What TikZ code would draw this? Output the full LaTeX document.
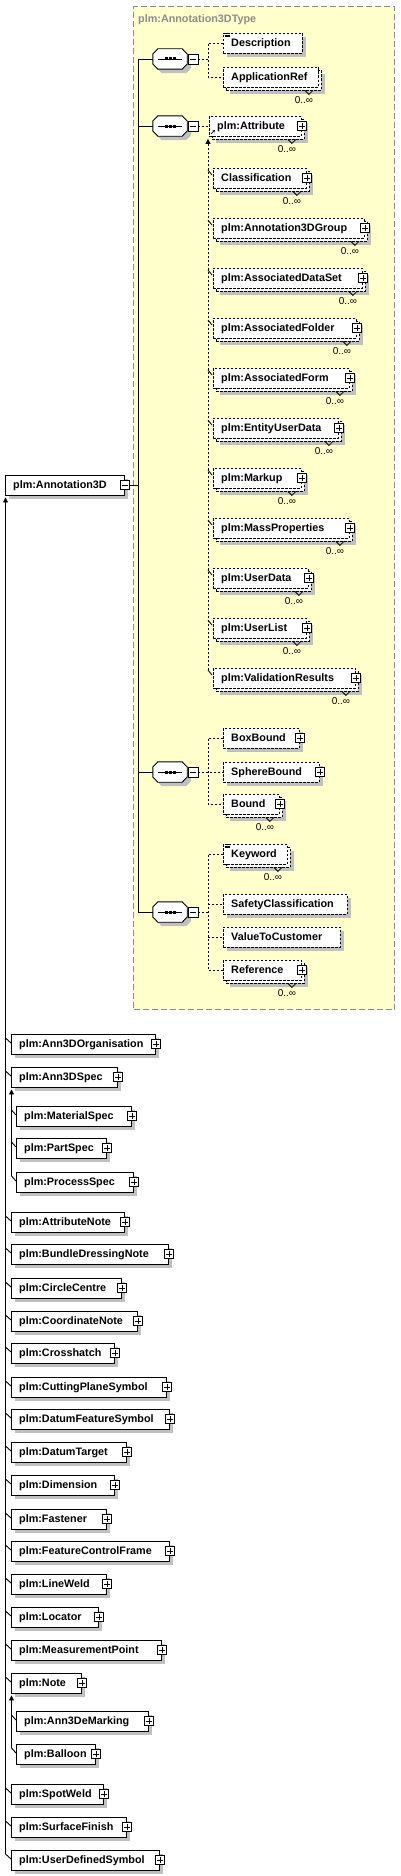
\documentclass[tikz,border=0pt]{standalone}
\usepackage{fontspec}
\setmainfont{Liberation Sans}
\usetikzlibrary{arrows.meta,calc}
\definecolor{shgrey}{HTML}{C0C0C0}
\definecolor{tyellow}{HTML}{FFFFCC}
\definecolor{dgrey}{HTML}{8C8C8C}
\tikzset{
 el/.style={rectangle, draw=black, fill=white, line width=0.9pt, minimum height=20pt, inner sep=0pt},
 shd/.style={preaction={fill=shgrey, draw=none, transform canvas={shift={(4pt,-4pt)}}}},
 dsh/.style={dash pattern=on 2.5pt off 1.5pt},
 eltxt/.style={anchor=base west, inner sep=0pt, font=\bfseries\fontsize{10.8}{12}\selectfont},
 mult/.style={inner sep=0pt, font=\fontsize{10}{12}\selectfont},
 pmbox/.style={rectangle, draw=black, fill=white, line width=0.8pt, minimum size=9pt, inner sep=0pt},
 plusbox/.style={pmbox, path picture={\draw[line width=0.8pt] ([xshift=1.8pt]path picture bounding box.west) -- ([xshift=-1.8pt]path picture bounding box.east) ([yshift=-1.8pt]path picture bounding box.north) -- ([yshift=1.8pt]path picture bounding box.south);}},
 minusbox/.style={pmbox, path picture={\draw[line width=0.8pt] ([xshift=1.8pt]path picture bounding box.west) -- ([xshift=-1.8pt]path picture bounding box.east);}},
 conn/.style={line width=0.9pt},
 dconn/.style={line width=0.9pt, dash pattern=on 2pt off 2pt},
 uparr/.style={-{Triangle[length=5pt,width=5pt]}},
 tbox/.style={rectangle, draw=dgrey, fill=tyellow, line width=1.2pt, dash pattern=on 6pt off 3pt, inner sep=0pt},
 ttl/.style={anchor=base west, inner sep=0pt, text=dgrey, font=\bfseries\fontsize{10.8}{12}\selectfont},
}
\newcommand\elbox[6]{%
  \pgfmathsetmacro\bw{#3-#2}%
  \node[el,#6,minimum width=\bw pt,anchor=west] (#1) at (#2,#4) {};%
  \node[eltxt] (#1-t) at ([xshift=8pt,yshift=-3.8pt]#1.west) {#5};%
}
\newcommand\backbox[4]{%
  \pgfmathsetmacro\bw{#3-#2}%
  \pgfmathsetmacro\bl{#2+3}%
  \pgfmathsetmacro\bc{#4+3}%
  \node[el,dsh,shd,minimum width=\bw pt,anchor=west] (#1-b) at (\bl,\bc) {};%
  \draw[line width=0.8pt] ([xshift=-17pt]#1-b.south east) -- ++(4pt,-4pt) -- ++(4pt,4pt);%
  \node[mult] (#1-m) at ([xshift=-18pt,yshift=-10pt]#1-b.south east) {0..∞};%
}
\newcommand\pls[1]{\node[plusbox] (#1-p) at (#1.east) {};}
\newcommand\seqc[2]{%
  \node[inner sep=0pt,minimum width=34pt,minimum height=20pt] (#1) at (170,#2) {};%
  \draw[line width=0.9pt,fill=white,shd] ([yshift=5pt]#1.west) -- ([xshift=5pt]#1.north west) -- ([xshift=-5pt]#1.north east) -- ([yshift=5pt]#1.east) -- ([yshift=-5pt]#1.east) -- ([xshift=-5pt]#1.south east) -- ([xshift=5pt]#1.south west) -- ([yshift=-5pt]#1.west) -- cycle;%
  \draw[line width=0.9pt] ([xshift=5pt]#1.west) -- ([xshift=-5pt]#1.east);%
  \foreach \dx in {-4,0,4} \fill ([xshift=\dx pt]#1.center) +(-1.5pt,-1.5pt) rectangle +(1.5pt,1.5pt);%
  \node[minusbox,minimum size=10pt] (#1-p) at (193,#2) {};%
}
\newcommand\ltick[2]{\draw[conn] ($(#1.west -| #2)+(0,6pt)$) -- ($(#1.west)+(0,1pt)$);}
\newcommand\ytick[1]{\draw[line width=0.8pt] ($(#1.west -| jx)+(0,8pt)$) -- ($(#1.west)+(-1pt,3pt)$);}
\newcommand\lines[1]{\foreach \k in {0.7,2.4,4.1} \draw[line width=0.6pt] ($(#1.north west)+(1.5pt,-\k pt)$) -- ++(5pt,0pt);}
\begin{document}
\begin{tikzpicture}[x=1pt,y=-1pt]
\useasboundingbox (0,0) rectangle (400,1876);
% type container
\node[tbox, anchor=north west, minimum width=261pt, minimum height=1003pt] (typebox) at (133,6) {};
\node[ttl] (title) at (138,22.5) {plm:Annotation3DType};
\coordinate (bust) at (138,0);
\coordinate (jx) at (208,0);
\coordinate (lx) at (5.5,0);
\coordinate (sx) at (11.5,0);
% root element
\elbox{a3d}{5}{124}{485}{plm:Annotation3D}{shd}
\node[minusbox] (a3d-p) at (a3d.east) {};
% compositors
\seqc{c1}{59}
\seqc{c2}{126}
\seqc{c3}{772}
\seqc{c4}{912}
\draw[conn] (a3d-p.east) -- (a3d-p.east -| bust);
\draw[conn] (c1.west) -- (c1.west -| bust) -- (c4.west -| bust) -- (c4.west);
\draw[conn] (c2.west) -- (c2.west -| bust);
\draw[conn] (c3.west) -- (c3.west -| bust);
% compositor 1 children
\elbox{desc}{223}{302}{43}{Description}{dsh,shd}
\lines{desc}
\backbox{appref}{223}{318}{77}
\elbox{appref}{223}{318}{77}{ApplicationRef}{dsh}
\draw[dconn] (c1-p.east) -- (c1-p.east -| jx);
\draw[dconn] (desc.west) -| (jx |- appref.west) -- (appref.west);
% compositor 2 children
\backbox{attr}{209}{301}{126}
\elbox{attr}{209}{301}{126}{plm:Attribute}{dsh}
\pls{attr}
\draw[line width=0.7pt,-{Stealth[length=2.5pt,width=2.5pt]}] ($(attr.south west)+(2pt,2.5pt)$) -- ++(4pt,4pt);
\backbox{cls}{213}{306}{178}
\elbox{cls}{213}{306}{178}{Classification}{dsh}
\pls{cls}
\backbox{agrp}{213}{364}{228}
\elbox{agrp}{213}{364}{228}{plm:Annotation3DGroup}{dsh}
\pls{agrp}
\backbox{ads}{213}{362}{278}
\elbox{ads}{213}{362}{278}{plm:AssociatedDataSet}{dsh}
\pls{ads}
\backbox{afo}{213}{356}{328}
\elbox{afo}{213}{356}{328}{plm:AssociatedFolder}{dsh}
\pls{afo}
\backbox{afm}{213}{349}{378}
\elbox{afm}{213}{349}{378}{plm:AssociatedForm}{dsh}
\pls{afm}
\backbox{eud}{213}{338}{428}
\elbox{eud}{213}{338}{428}{plm:EntityUserData}{dsh}
\pls{eud}
\backbox{mku}{213}{301}{478}
\elbox{mku}{213}{301}{478}{plm:Markup}{dsh}
\pls{mku}
\backbox{mpr}{213}{349}{528}
\elbox{mpr}{213}{349}{528}{plm:MassProperties}{dsh}
\pls{mpr}
\backbox{udt}{213}{308}{578}
\elbox{udt}{213}{308}{578}{plm:UserData}{dsh}
\pls{udt}
\backbox{uls}{213}{306}{628}
\elbox{uls}{213}{306}{628}{plm:UserList}{dsh}
\pls{uls}
\backbox{vres}{213}{355}{678}
\elbox{vres}{213}{355}{678}{plm:ValidationResults}{dsh}
\pls{vres}
\draw[dconn] (c2-p.east) -- (c2-p.east -| attr.west);
\draw[dconn,uparr] ($(vres.west -| jx)+(0,8pt)$) -- ($(attr.south west -| jx)+(0,-2.5pt)$);
\foreach \n in {cls,agrp,ads,afo,afm,eud,mku,mpr,udt,uls,vres} {\ytick{\n}}
% compositor 3 children
\elbox{bxb}{223}{299}{738}{BoxBound}{dsh,shd}
\pls{bxb}
\elbox{sph}{223}{319}{772}{SphereBound}{dsh,shd}
\pls{sph}
\backbox{bnd}{223}{279}{804}
\elbox{bnd}{223}{279}{804}{Bound}{dsh}
\pls{bnd}
\draw[dconn] (c3-p.east) -- (sph.west);
\draw[dconn] (bxb.west) -| (jx |- bnd.west) -- (bnd.west);
% compositor 4 children
\backbox{kw}{223}{287}{854}
\elbox{kw}{223}{287}{854}{Keyword}{dsh}
\lines{kw}
\elbox{sfc}{223}{347}{904}{SafetyClassification}{dsh,shd}
\elbox{vtc}{223}{340}{937}{ValueToCustomer}{dsh,shd}
\backbox{ref}{223}{301}{970}
\elbox{ref}{223}{301}{970}{Reference}{dsh}
\pls{ref}
\draw[dconn] (c4-p.east) -- (c4-p.east -| jx);
\draw[dconn] (kw.west) -| (jx |- ref.west) -- (ref.west);
\draw[dconn] (sfc.west -| jx) -- (sfc.west);
\draw[dconn] (vtc.west -| jx) -- (vtc.west);
% substitution group members
\elbox{ann3dorg}{11}{155}{1044}{plm:Ann3DOrganisation}{shd}
\elbox{ann3dspec}{11}{117}{1077}{plm:Ann3DSpec}{shd}
\elbox{matspec}{16}{131}{1116}{plm:MaterialSpec}{shd}
\elbox{partspec}{16}{106}{1148}{plm:PartSpec}{shd}
\elbox{procspec}{16}{133}{1182}{plm:ProcessSpec}{shd}
\elbox{attrnote}{11}{124}{1222}{plm:AttributeNote}{shd}
\elbox{bdn}{11}{168}{1254}{plm:BundleDressingNote}{shd}
\elbox{cc}{11}{121}{1288}{plm:CircleCentre}{shd}
\elbox{coordn}{11}{137}{1321}{plm:CoordinateNote}{shd}
\elbox{xh}{11}{114}{1353}{plm:Crosshatch}{shd}
\elbox{cps}{11}{166}{1387}{plm:CuttingPlaneSymbol}{shd}
\elbox{dfs}{11}{169}{1419}{plm:DatumFeatureSymbol}{shd}
\elbox{dt}{11}{126}{1452}{plm:DatumTarget}{shd}
\elbox{dim}{11}{114}{1485}{plm:Dimension}{shd}
\elbox{fas}{11}{106}{1519}{plm:Fastener}{shd}
\elbox{fcf}{11}{169}{1551}{plm:FeatureControlFrame}{shd}
\elbox{lw}{11}{106}{1584}{plm:LineWeld}{shd}
\elbox{loc}{11}{98}{1617}{plm:Locator}{shd}
\elbox{mp}{11}{161}{1650}{plm:MeasurementPoint}{shd}
\elbox{note}{11}{81}{1683}{plm:Note}{shd}
\elbox{ann3dem}{16}{148}{1721}{plm:Ann3DeMarking}{shd}
\elbox{bal}{16}{95}{1754}{plm:Balloon}{shd}
\elbox{sw}{11}{103}{1794}{plm:SpotWeld}{shd}
\elbox{sf}{11}{126}{1827}{plm:SurfaceFinish}{shd}
\elbox{uds}{11}{159}{1860}{plm:UserDefinedSymbol}{shd}
\foreach \n in {ann3dorg,ann3dspec,matspec,partspec,procspec,attrnote,bdn,cc,coordn,xh,cps,dfs,dt,dim,fas,fcf,lw,loc,mp,note,ann3dem,bal,sw,sf,uds} {\pls{\n}}
\draw[conn,uparr] ($(uds.west -| lx)+(0,6pt)$) -- ($(a3d.south west -| lx)+(0,-2pt)$);
\foreach \n in {ann3dorg,ann3dspec,attrnote,bdn,cc,coordn,xh,cps,dfs,dt,dim,fas,fcf,lw,loc,mp,note,sw,sf,uds} {\ltick{\n}{lx}}
\draw[conn,uparr] ($(procspec.west -| sx)+(0,6pt)$) -- ($(ann3dspec.south west -| sx)+(0,-2pt)$);
\foreach \n in {matspec,partspec,procspec} {\ltick{\n}{sx}}
\draw[conn,uparr] ($(bal.west -| sx)+(0,6pt)$) -- ($(note.south west -| sx)+(0,-2pt)$);
\foreach \n in {ann3dem,bal} {\ltick{\n}{sx}}
\end{tikzpicture}
\end{document}
